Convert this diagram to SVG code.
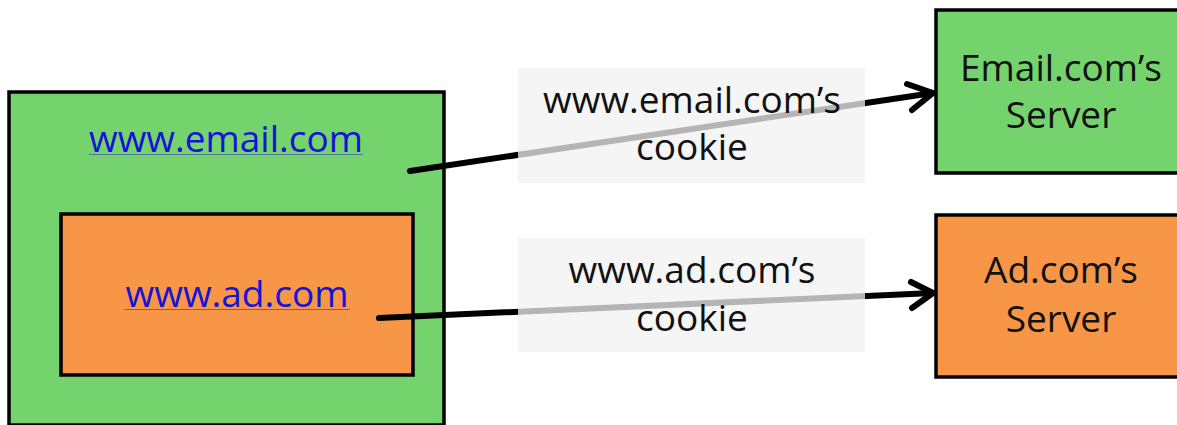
<svg xmlns="http://www.w3.org/2000/svg" width="1177" height="425" viewBox="0 0 1177 425">
<style>
.box{stroke:#000;stroke-width:3.5}
.green{fill:#74d36c}
.orange{fill:#f79646}
.t{font-family:"Open Sans","DejaVu Sans",sans-serif;font-size:37px;fill:#111;text-anchor:middle}
.link{font-family:"Open Sans","DejaVu Sans",sans-serif;font-size:37px;fill:#1414d8;text-anchor:middle}
.ul{stroke:#4a5aa8;stroke-width:1.2;opacity:0.8}
.conn{stroke:#000;stroke-width:6;fill:none;stroke-linecap:round;stroke-linejoin:round}
.lbl{fill:#f2f2f2;opacity:0.75}
</style>
<rect width="1177" height="425" fill="#fff"/>
<g id="browser-email">
<rect class="box green" x="9" y="92" width="435" height="333"/>
<text class="link" x="226" y="152">www.email.com</text>
<line class="ul" x1="89" y1="154.5" x2="363" y2="154.5"/>
</g>
<g id="iframe-ad">
<rect class="box orange" x="61" y="214" width="352" height="161"/>
<text class="link" x="237" y="307">www.ad.com</text>
<line class="ul" x1="124" y1="309.5" x2="350" y2="309.5"/>
</g>
<g id="email-server">
<rect class="box green" x="936" y="10" width="250" height="163"/>
<text class="t" x="1061" y="81">Email.com’s</text>
<text class="t" x="1061" y="128">Server</text>
</g>
<g id="ad-server">
<rect class="box orange" x="936" y="215" width="250" height="162"/>
<text class="t" x="1061" y="283">Ad.com’s</text>
<text class="t" x="1061" y="332">Server</text>
</g>
<g id="connectors">
<path class="conn" d="M410 171 L933 93"/>
<path class="conn" d="M907 84 L933 93 L912 110"/>
<path class="conn" d="M379 318 L933 293"/>
<path class="conn" d="M911 282 L933 293 L912 308"/>
</g>
<g id="label-email-cookie">
<rect class="lbl" x="518" y="68" width="347" height="115"/>
<text class="t" x="692" y="113">www.email.com’s</text>
<text class="t" x="692" y="160">cookie</text>
</g>
<g id="label-ad-cookie">
<rect class="lbl" x="518" y="238" width="347" height="114"/>
<text class="t" x="692" y="283">www.ad.com’s</text>
<text class="t" x="692" y="331">cookie</text>
</g>
</svg>
